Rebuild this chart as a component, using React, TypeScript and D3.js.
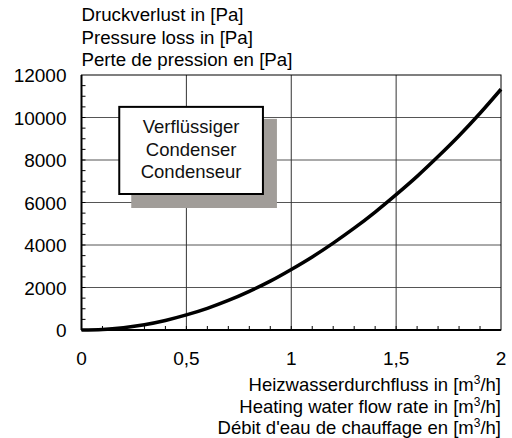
import React from 'react';
import * as d3 from 'd3';

// Pressure loss curve of the condenser
const flowRates = [0, 0.1, 0.2, 0.3, 0.4, 0.5, 0.6, 0.7, 0.8, 0.9, 1.0, 1.1, 1.2, 1.3, 1.4, 1.5, 1.6, 1.7, 1.8, 1.9, 2.0];
const pressureLoss = [0, 25, 110, 250, 450, 710, 1020, 1390, 1820, 2300, 2850, 3440, 4090, 4790, 5550, 6370, 7230, 8160, 9140, 10200, 11330];

const xTicks = [0, 0.5, 1, 1.5, 2];
const xTickLabels = ['0', '0,5', '1', '1,5', '2'];
const yTicks = [0, 2000, 4000, 6000, 8000, 10000, 12000];

const yTitle = ['Druckverlust in [Pa]', 'Pressure loss in [Pa]', 'Perte de pression en [Pa]'];
const xTitle = ['Heizwasserdurchfluss in [m', 'Heating water flow rate in [m', "Débit d'eau de chauffage en [m"];
const boxLines = ['Verflüssiger', 'Condenser', 'Condenseur'];

const W = 512;
const H = 438;
const margin = { top: 75, right: 11, bottom: 108, left: 81.5 };
const font = '"Liberation Sans", Arial, sans-serif';

export default function App() {
  const x = d3.scaleLinear().domain([0, 2]).range([margin.left, W - margin.right]);
  const y = d3.scaleLinear().domain([0, 12000]).range([H - margin.bottom, margin.top]);

  const pts: [number, number][] = flowRates.map((f, i) => [f, pressureLoss[i]]);
  const line = d3.line<[number, number]>()
    .x((d) => x(d[0]))
    .y((d) => y(d[1]))
    .curve(d3.curveMonotoneX);

  const xMinor = d3.range(1, 20).map((i) => i / 10);
  const yMinor = d3.range(1, 24).map((i) => i * 500);

  // annotation box position in data units
  const box = { x0: 0.18, x1: 0.865, y0: 10500, y1: 6400 };
  const bx = x(box.x0);
  const bw = x(box.x1) - bx;
  const by = y(box.y0);
  const bh = y(box.y1) - by;
  const cx = bx + bw / 2;

  return (
    <svg width={W} height={H} style={{ position: 'absolute', left: 0, top: 0 }} fontFamily={font}>
      <rect width={W} height={H} fill="#fff" />

      {/* grid */}
      {yTicks.slice(1, -1).map((t) => (
        <line key={'gy' + t} x1={x(0)} x2={x(2)} y1={y(t)} y2={y(t)} stroke="#555" strokeWidth={1} />
      ))}
      {xTicks.slice(1, -1).map((t) => (
        <line key={'gx' + t} x1={x(t)} x2={x(t)} y1={y(0)} y2={y(12000)} stroke="#333" strokeWidth={1} />
      ))}

      {/* minor ticks */}
      {xMinor.map((t) => (
        <line key={'mx' + t} x1={x(t)} x2={x(t)} y1={y(0)} y2={y(0) - 4} stroke="#000" strokeWidth={1} />
      ))}
      {yMinor.map((t) => (
        <line key={'my' + t} x1={x(0)} x2={x(0) + 4} y1={y(t)} y2={y(t)} stroke="#000" strokeWidth={1} />
      ))}

      {/* frame */}
      <rect x={x(0)} y={y(12000)} width={x(2) - x(0)} height={y(0) - y(12000)} fill="none" stroke="#000" strokeWidth={1} />
      <line x1={x(0)} x2={x(2)} y1={y(0)} y2={y(0)} stroke="#000" strokeWidth={2} />
      <line x1={x(0)} x2={x(0)} y1={y(0)} y2={y(12000)} stroke="#000" strokeWidth={2} />

      {/* annotation box */}
      <rect x={bx + 12} y={by + 12} width={bw + 2} height={bh + 2} fill="#a19d99" />
      <rect x={bx} y={by} width={bw} height={bh} fill="#fff" stroke="#000" strokeWidth={2} />
      {boxLines.map((s, i) => (
        <text key={s} x={cx} y={by + 26.5 + i * 22.2} textAnchor="middle" fontSize={18.5} fill="#111">{s}</text>
      ))}

      {/* curve */}
      <path d={line(pts) || ''} fill="none" stroke="#000" strokeWidth={3.5} />

      {/* y labels */}
      {yTicks.map((t) => (
        <text key={'yl' + t} x={x(0) - 15} y={y(t) + 7} textAnchor="end" fontSize={19} fill="#000">{t}</text>
      ))}
      {/* x labels */}
      {xTicks.map((t, i) => (
        <text key={'xl' + t} x={x(t)} y={y(0) + 35} textAnchor="middle" fontSize={19} fill="#000">{xTickLabels[i]}</text>
      ))}

      {/* titles */}
      {yTitle.map((s, i) => (
        <text key={s} x={x(0)} y={21 + i * 22.5} fontSize={18.7} fill="#000">{s}</text>
      ))}
      {xTitle.map((s, i) => (
        <text key={s} x={x(2)} y={391 + i * 21.5} textAnchor="end" fontSize={18.5} fill="#000">
          {s}
          <tspan fontSize={12} dy={-7}>3</tspan>
          <tspan dy={7}>/h]</tspan>
        </text>
      ))}
    </svg>
  );
}
